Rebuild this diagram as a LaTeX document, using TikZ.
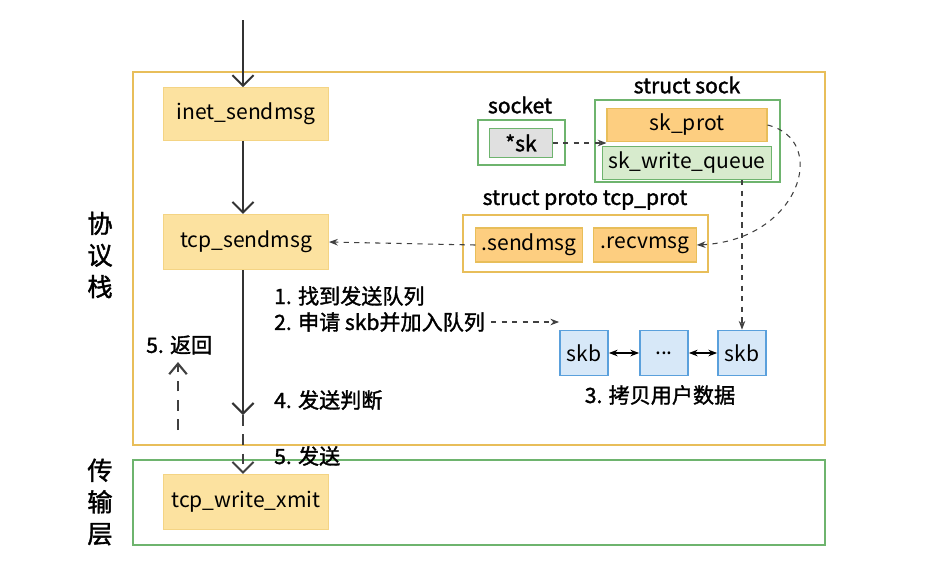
\documentclass[tikz,border=0pt]{standalone}
\usepackage{fontspec}
\setmainfont{Noto Sans CJK SC}[AutoFakeBold=1.5]
\usetikzlibrary{arrows.meta}
\definecolor{orgline}{RGB}{232,190,90}
\definecolor{orgfill}{RGB}{252,226,160}
\definecolor{grnline}{RGB}{110,180,110}
\definecolor{grnfill}{RGB}{215,235,205}
\definecolor{bluline}{RGB}{90,160,220}
\definecolor{blufill}{RGB}{215,232,248}
\tikzset{
  func/.style={draw=orgfill!60!orgline,fill=orgfill,line width=0.6pt,font=\large},
  field/.style={draw=orgline,fill=orgfill!80!orange,line width=0.6pt,font=\large},
  gfield/.style={draw=grnline,fill=grnfill,line width=0.6pt,font=\large},
  skbbox/.style={draw=bluline,fill=blufill,line width=1pt,font=\large},
  lbl/.style={font=\large\bfseries,anchor=west},
  flow/.style={-{Straight Barb[length=6pt,width=12pt]},line width=1.2pt,black!80},
  ptr/.style={-{Stealth[length=5pt]},dashed,black!75,line width=0.6pt}
}
\begin{document}
\begin{tikzpicture}[x=0.02cm,y=-0.02cm]
\useasboundingbox (0,0) rectangle (940,576);
% layers
\draw[orgline,line width=0.8pt] (133,72) rectangle (825,445);
\draw[grnline,line width=0.8pt] (133,460) rectangle (825,545);
\node[font=\Large\bfseries,align=center] (stk) at (100,255) {协\\议\\栈};
\node[font=\Large\bfseries,align=center] (trn) at (100,502) {传\\输\\层};
% functions
\node[func,minimum width=3.3cm,minimum height=1.05cm] (inet) at (246,114) {inet\_sendmsg};
\node[func,minimum width=3.3cm,minimum height=1.1cm] (tcps) at (246,242) {tcp\_sendmsg};
\node[func,minimum width=3.3cm,minimum height=1.1cm] (xmit) at (246,502) {tcp\_write\_xmit};
\coordinate (top) at (243,20);
\coordinate (judge) at (243,415);
\draw[flow] (top) -- (inet.north -| top);
\draw[flow] (inet.south -| top) -- (tcps.north -| top);
\draw[flow] (tcps.south -| top) -- (judge);
\draw[ptr,line width=1.2pt,dash pattern=on 6pt off 5pt,-{Straight Barb[length=6pt,width=12pt]}] (judge) -- (xmit.north -| top);
\coordinate (rb) at (178,430);
\coordinate (rt) at (178,362);
\draw[ptr,line width=1.2pt,dash pattern=on 6pt off 5pt,-{Straight Barb[length=6pt,width=10pt]}] (rb) -- (rt);
\node[lbl] (ret) at (140,345) {5. 返回};
\node[lbl] (s1) at (268,296) {1. 找到发送队列};
\node[lbl] (s2) at (268,322) {2. 申请 skb并加入队列};
\node[lbl] (s4) at (268,400) {4. 发送判断};
\node[lbl] (s5) at (268,456) {5. 发送};
% socket
\node[font=\large\bfseries] (sockl) at (520,105) {socket};
\draw[grnline,fill=white,line width=1pt] (478,120) rectangle (565,165);
\node[draw=grnline,fill=black!12,minimum width=1.25cm,minimum height=0.5cm,font=\large\bfseries] (sk) at (521,143) {*sk};
% struct sock
\node[font=\large\bfseries] (sockt) at (687,85) {struct sock};
\draw[grnline,line width=1pt] (595,100) rectangle (780,182);
\node[field,minimum width=3.2cm,minimum height=0.6cm] (prot) at (687,125) {sk\_prot};
\node[gfield,minimum width=3.2cm,minimum height=0.6cm] (wq) at (687,163) {sk\_write\_queue};
% struct proto
\node[font=\large\bfseries] (protl) at (585,200) {struct proto tcp\_prot};
\draw[orgline,line width=1pt] (463,215) rectangle (708,272);
\node[field,minimum width=2.1cm,minimum height=0.68cm] (send) at (529,245) {.sendmsg};
\node[field,minimum width=2.05cm,minimum height=0.68cm] (recv) at (645,245) {.recvmsg};
% skb list
\node[skbbox,minimum width=0.96cm,minimum height=0.9cm] (skb1) at (584,353) {skb};
\node[skbbox,minimum width=0.96cm,minimum height=0.9cm] (dots) at (664,353) {...};
\node[skbbox,minimum width=0.96cm,minimum height=0.9cm] (skb2) at (742,353) {skb};
\node[font=\large\bfseries] (copy) at (660,395) {3. 拷贝用户数据};
\draw[{Stealth[length=5pt]}-{Stealth[length=5pt]},line width=0.7pt] (skb1) -- (dots);
\draw[{Stealth[length=5pt]}-{Stealth[length=5pt]},line width=0.7pt] (dots) -- (skb2);
% pointers
\draw[ptr] (sk) -- (prot.west |- sk);
\draw[ptr] (prot.east) .. controls (830,140) and (800,240) .. (recv.east);
\draw[ptr] (wq.south -| skb2) -- (skb2.north);
\draw[ptr] (send.west) -- (tcps.east);
\draw[ptr] (s2.east) -- (skb1.west |- s2.east);
\end{tikzpicture}
\end{document}
